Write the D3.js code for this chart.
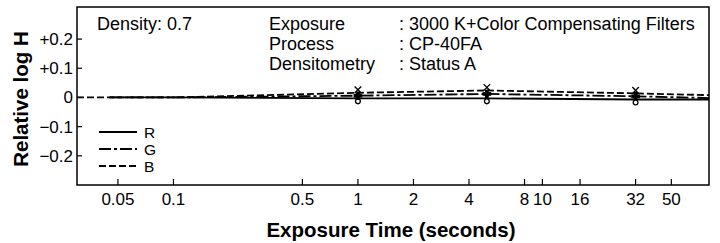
<!DOCTYPE html>
<meta charset="utf-8">
<style>
body { margin: 0; background: #fff; }
text { font-family: "Liberation Sans", Arial, sans-serif; fill: #000; }
.frame { fill: none; stroke: #000; stroke-width: 1.5px; }
.tick-lab { font-size: 17px; }
.title { font-size: 20.5px; font-weight: bold; }
.note { font-size: 18px; }
.leg-lab { font-size: 15.5px; }
.series { fill: none; stroke: #000; stroke-width: 1.8px; }
</style>
<svg width="720" height="243"></svg>
<script src="https://d3js.org/d3.v7.min.js"></script>
<script>
// values
var xTicks = [0.05, 0.1, 0.5, 1, 2, 4, 8, 10, 16, 32, 50];
var yTicks = [0.2, 0.1, 0, -0.1, -0.2];
var yTickLabels = ["+0.2", "+0.1", "0", "\u22120.1", "\u22120.2"];

var timeRG = [0.045, 0.1, 1, 5, 32, 80];
var timeB  = [0.03, 0.1, 1, 5, 32, 80];
var valR = [0, 0, -0.003, -0.003, -0.007, -0.007];
var valG = [0, 0, 0.006, 0.012, 0.004, -0.002];
var valB = [0, 0, 0.016, 0.024, 0.014, 0.008];
var markTimes = [1, 5, 32];

var notesLeft = ["Exposure", "Process", "Densitometry"];
var notesRight = [": 3000 K+Color Compensating Filters", ": CP-40FA", ": Status A"];

var svg = d3.select("svg");

var x = d3.scaleLog().domain([0.03, 80]).range([77, 709]);
var y = d3.scaleLinear().domain([-0.3, 0.31]).range([185, 7]);

svg.append("rect").attr("class", "frame")
    .attr("x", x.range()[0]).attr("y", y.range()[1])
    .attr("width", x.range()[1] - x.range()[0])
    .attr("height", y.range()[0] - y.range()[1]);

// x ticks (inward)
var gx = svg.append("g").attr("transform", "translate(0," + y.range()[0] + ")");
gx.selectAll("line").data(xTicks).enter().append("line")
    .attr("x1", d => x(d)).attr("x2", d => x(d))
    .attr("y1", 0).attr("y2", -6)
    .attr("stroke", "#000").attr("stroke-width", 1.2);
gx.selectAll("text").data(xTicks).enter().append("text")
    .attr("class", "tick-lab")
    .attr("x", d => x(d)).attr("y", 20)
    .attr("text-anchor", "middle")
    .text(d => d);

// y ticks (inward)
var gy = svg.append("g").attr("transform", "translate(" + x.range()[0] + ",0)");
gy.selectAll("line").data(yTicks).enter().append("line")
    .attr("x1", 0).attr("x2", 5)
    .attr("y1", d => y(d)).attr("y2", d => y(d))
    .attr("stroke", "#000").attr("stroke-width", 1.2);
gy.selectAll("text").data(yTicks).enter().append("text")
    .attr("class", "tick-lab")
    .attr("x", -4).attr("y", d => y(d) + 6)
    .attr("text-anchor", "end")
    .text((d, i) => yTickLabels[i]);

// axis titles
svg.append("text").attr("class", "title")
    .attr("x", 391).attr("y", 237)
    .attr("text-anchor", "middle")
    .text("Exposure Time (seconds)");
svg.append("text").attr("class", "title")
    .attr("transform", "translate(28,99) rotate(-90)")
    .attr("text-anchor", "middle")
    .text("Relative log H");

// notes
svg.append("text").attr("class", "note").attr("x", 97).attr("y", 30).text("Density: 0.7");
svg.selectAll("text.nl").data(notesLeft).enter().append("text")
    .attr("class", "note nl").attr("x", 269).attr("y", (d, i) => 30 + i * 20).text(d => d);
svg.selectAll("text.nr").data(notesRight).enter().append("text")
    .attr("class", "note nr").attr("x", 399).attr("y", (d, i) => 30 + i * 20).text(d => d);

// series
var series = [
  {name: "R", t: timeRG, v: valR, dash: null},
  {name: "G", t: timeRG, v: valG, dash: "12,3,3,3"},
  {name: "B", t: timeB, v: valB, dash: "7,3"}
];

var line = d3.line().x(d => x(d[0])).y(d => y(d[1]));

series.forEach(function(s) {
  var pts = s.t.map((t, i) => [t, s.v[i]]);
  svg.append("path").datum(pts)
      .attr("class", "series")
      .attr("stroke-dasharray", s.dash)
      .attr("d", line);
  var marks = pts.filter(p => markTimes.indexOf(p[0]) >= 0);
  var sym = s.name == "R" ? d3.symbolCircle : (s.name == "G" ? d3.symbolCross : d3.symbolTimes);
  svg.selectAll(null).data(marks).enter().append("path")
      .attr("d", d3.symbol().type(sym).size(s.name == "R" ? 18 : 30))
      .attr("transform", d => "translate(" + x(d[0]) + "," + (y(d[1]) + (s.name == "R" ? 3 : s.name == "B" ? -3 : 0)) + ")")
      .attr("fill", s.name == "R" ? "#fff" : "#000")
      .attr("stroke", "#000").attr("stroke-width", 1.3);
});

// legend
var leg = svg.append("g").attr("transform", "translate(99,132)");
series.forEach(function(s, i) {
  leg.append("line")
      .attr("x1", 0).attr("x2", 38)
      .attr("y1", i * 17).attr("y2", i * 17)
      .attr("stroke", "#000").attr("stroke-width", 1.8)
      .attr("stroke-dasharray", s.dash);
  leg.append("text").attr("class", "leg-lab")
      .attr("x", 45).attr("y", i * 17 + 6)
      .text(s.name);
});
</script>
